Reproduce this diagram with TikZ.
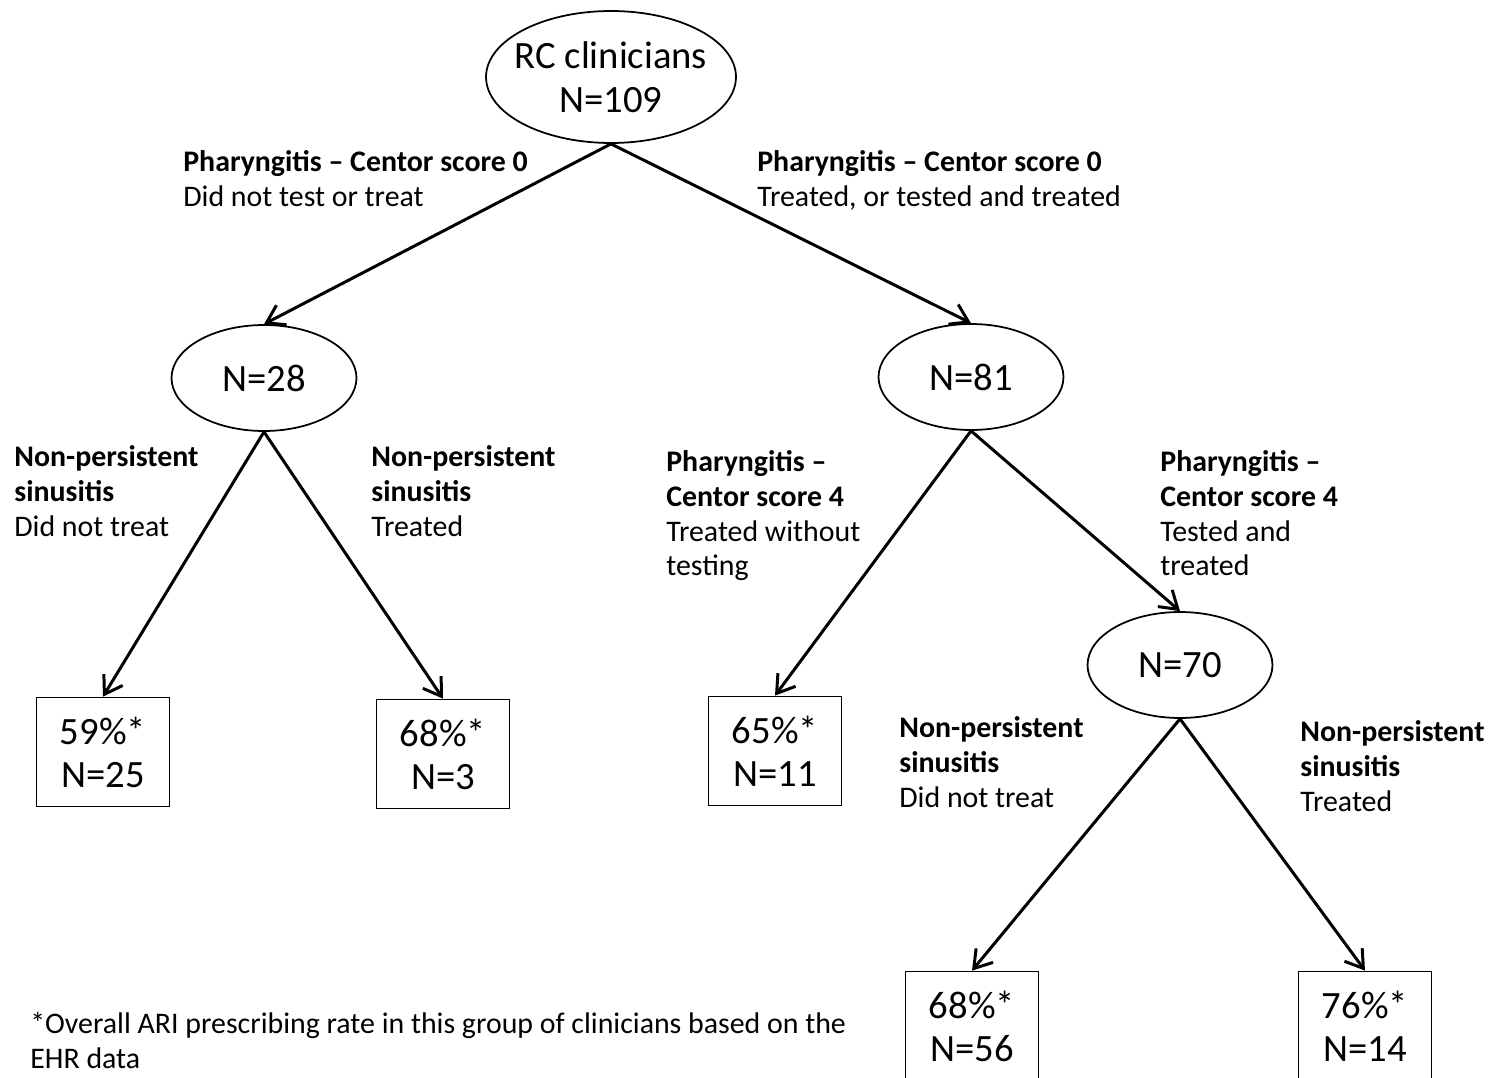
\documentclass[tikz,border=0pt]{standalone}
\usepackage{fontspec}
\setmainfont{Carlito}
\usepackage{tikz}
\usetikzlibrary{shapes.geometric, arrows.meta}
\tikzstyle{snode} = [ellipse, minimum width=3.7cm, minimum height=2.12cm, inner sep=0pt, text centered, align=center, draw=black, line width=1pt, fill=white, font=\fontsize{22}{25}\selectfont]
\tikzstyle{pa} = [rectangle, minimum width=2.66cm, minimum height=2.18cm, text centered, align=center, draw=black, line width=1pt, fill=white, font=\fontsize{22}{24.4}\selectfont]
\tikzstyle{lbl} = [anchor=north west, inner sep=0pt, align=left, font=\fontsize{17}{19.85}\selectfont]
\tikzstyle{arrow} = [line width=1.7pt,-{Straight Barb[length=3.4mm,width=4.4mm]}]

\begin{document}
\begin{tikzpicture}[x=0.02cm, y=-0.02cm]
\useasboundingbox (0,0) rectangle (1491,1078);
\clip (0,0) rectangle (1491,1078);

\node (root) [snode, inner xsep=-5pt, minimum width=5cm, minimum height=2.64cm] at (611,77) {RC clinicians\\N=109};
\node (n28) [snode] at (264,378) {N=28};
\node (n81) [snode] at (971,377) {N=81};
\node (n70) [snode] at (1180,665) {N=70};

\node (b25) [pa] at (103,752) {59\%*\\N=25};
\node (b3) [pa] at (443,754) {68\%*\\N=3};
\node (b11) [pa] at (775,751) {65\%*\\N=11};
\node (b56) [pa] at (972,1026) {68\%*\\N=56};
\node (b14) [pa] at (1365,1026) {76\%*\\N=14};

\draw [arrow] (root.south) -- (n28.north);
\draw [arrow] (root.south) -- (n81.north);
\draw [arrow] (n28.south) -- (b25.north);
\draw [arrow] (n28.south) -- (b3.north);
\draw [arrow] (n81.south) -- (b11.north);
\draw [arrow] (n81.south) -- (n70.north);
\draw [arrow] (n70.south) -- (b56.north);
\draw [arrow] (n70.south) -- (b14.north);

\node (t28) [lbl] at (183,150) {\textbf{Pharyngitis – Centor score 0}\\Did not test or treat};
\node (t81) [lbl] at (757,150) {\textbf{Pharyngitis – Centor score 0}\\Treated, or tested and treated};
\node (t25) [lbl] at (14,445) {\textbf{Non-persistent}\\\textbf{sinusitis}\\Did not treat};
\node (t3) [lbl] at (371,445) {\textbf{Non-persistent}\\\textbf{sinusitis}\\Treated};
\node (t11) [lbl] at (666,450) {\textbf{Pharyngitis –}\\\textbf{Centor score 4}\\Treated without\\testing};
\node (t70) [lbl] at (1160,450) {\textbf{Pharyngitis –}\\\textbf{Centor score 4}\\Tested and\\treated};
\node (t56) [lbl] at (899,716) {\textbf{Non-persistent}\\\textbf{sinusitis}\\Did not treat};
\node (t14) [lbl] at (1300,720) {\textbf{Non-persistent}\\\textbf{sinusitis}\\Treated};
\node (note) [lbl] at (30,1012) {*Overall ARI prescribing rate in this group of clinicians based on the\\EHR data};
\end{tikzpicture}
\end{document}
